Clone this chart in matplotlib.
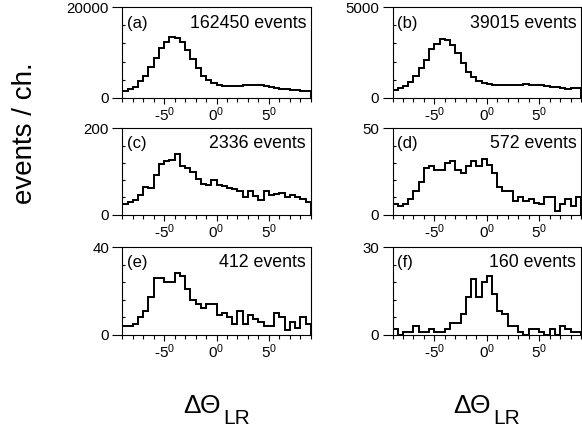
#!/usr/bin/env python3
# -*- coding: utf-8 -*-

"""
Six-panel histogram of the left/right angle difference (Delta Theta_LR),
0.5 degree channels from -9 to +9 degrees, one panel per event selection.
"""

import numpy as np
import matplotlib
matplotlib.use("Agg")
import matplotlib.pyplot as plt
from matplotlib.ticker import FixedLocator, MultipleLocator

plt.rcParams["font.family"] = ["Liberation Sans", "DejaVu Sans"]
plt.rcParams["mathtext.default"] = "regular"

# channel edges (degrees)
edges = np.arange(-9.0, 9.0 + 0.25, 0.5)

# counts per channel, read left to right
counts_a = [1550, 1850, 2400, 3700, 4800, 6800, 8800, 11100, 12400, 13500,
            13300, 12300, 10600, 8600, 6600, 4900, 3900, 3300, 2800, 2600,
            2500, 2600, 2600, 2700, 2700, 2800, 2700, 2600, 2400, 2200,
            2000, 1900, 1700, 1600, 1500, 1400]
counts_b = [420, 520, 650, 890, 1200, 1620, 2100, 2680, 2970, 3270,
            3200, 2920, 2450, 1900, 1440, 1130, 920, 830, 760, 700,
            700, 680, 700, 720, 700, 740, 720, 700, 680, 660,
            610, 580, 520, 500, 520, 520]
counts_c = [25, 30, 33, 46, 63, 62, 92, 118, 125, 127,
            140, 112, 108, 100, 82, 70, 68, 80, 68, 66,
            62, 60, 55, 42, 55, 44, 34, 54, 46, 48,
            50, 42, 45, 40, 36, 30]
counts_d = [6, 5, 6, 9, 14, 19, 27, 28, 26, 26,
            30, 31, 26, 24, 28, 31, 28, 32, 29, 24,
            16, 14, 14, 8, 10, 8, 9, 7, 6, 10,
            10, 2, 6, 9, 5, 10]
counts_e = [4, 4, 5, 8, 11, 17, 26, 26, 24, 24,
            28, 27, 21, 16, 14, 12, 14, 14, 9, 10,
            8, 5, 11, 5, 9, 7, 6, 4, 4, 10,
            8, 2, 6, 3, 8, 5]
counts_f = [2, 0, 1, 1, 3, 1, 1, 2, 1, 1,
            2, 4, 4, 7, 13, 19, 13, 18, 20, 14,
            8, 7, 3, 3, 1, 0, 2, 2, 1, 0,
            2, 0, 3, 2, 1, 1]

panel_tags = ["(a)", "(b)", "(c)", "(d)", "(e)", "(f)"]
event_totals = [162450, 39015, 2336, 572, 412, 160]
y_tops = [20000, 5000, 200, 50, 40, 30]
x_major = [-5, 0, 5]
x_major_labels = ["-5$^0$", "0$^0$", "5$^0$"]

all_counts = [counts_a, counts_b, counts_c, counts_d, counts_e, counts_f]

W, H = 582, 430
fig = plt.figure(figsize=(W / 100, H / 100), dpi=100)


def px_axes(x0, y0, x1, y1):
    """Axes from a pixel box (top-left origin)."""
    return fig.add_axes([x0 / W, 1 - y1 / H, (x1 - x0) / W, (y1 - y0) / H])


col_x = [(122.3, 310.8), (392.5, 581.0)]
row_y = [(7.3, 97.7), (128.3, 214.7), (247.0, 334.7)]

for i, counts in enumerate(all_counts):
    r, c = divmod(i, 2)
    ax = px_axes(col_x[c][0], row_y[r][0], col_x[c][1], row_y[r][1])
    ax.stairs(counts, edges, color="black", linewidth=1.4)

    ax.set_xlim(-9, 9)
    ax.set_ylim(0, y_tops[i])

    ax.xaxis.set_major_locator(FixedLocator(x_major))
    ax.set_xticklabels(x_major_labels)
    ax.xaxis.set_minor_locator(MultipleLocator(1))
    ax.yaxis.set_major_locator(FixedLocator([0, y_tops[i]]))
    ax.set_yticklabels(["0", str(y_tops[i])])
    ax.yaxis.set_minor_locator(MultipleLocator(y_tops[i] / 5))

    ax.tick_params(axis="x", which="major", direction="out", length=4.5,
                   width=0.8, labelsize=11, pad=1.0)
    ax.tick_params(axis="x", which="minor", direction="out", length=2.6,
                   width=0.8)
    ax.tick_params(axis="y", which="major", direction="out", length=7,
                   width=0.8, labelsize=10.8, pad=2.5)
    ax.tick_params(axis="y", which="minor", direction="in", length=2,
                   width=0.8)
    for sp in ax.spines.values():
        sp.set_linewidth(0.8)

    ax.text(0.025, 0.82, panel_tags[i], transform=ax.transAxes,
            ha="left", va="center", fontsize=12)
    ax.text(0.975, 0.82, f"{event_totals[i]} events", transform=ax.transAxes,
            ha="right", va="center", fontsize=12.8)

# shared axis titles
fig.text(25 / W, 1 - 133 / H, "events / ch.", rotation=90,
         ha="center", va="center", fontsize=20)
for x0 in (183, 453):
    fig.text(x0 / W, 1 - 413 / H, "ΔΘ", ha="left", va="baseline",
             fontsize=19)
    fig.text((x0 + 40) / W, 1 - 424 / H, "LR", ha="left", va="baseline",
             fontsize=15)

fig.savefig("out.png", dpi=100)
